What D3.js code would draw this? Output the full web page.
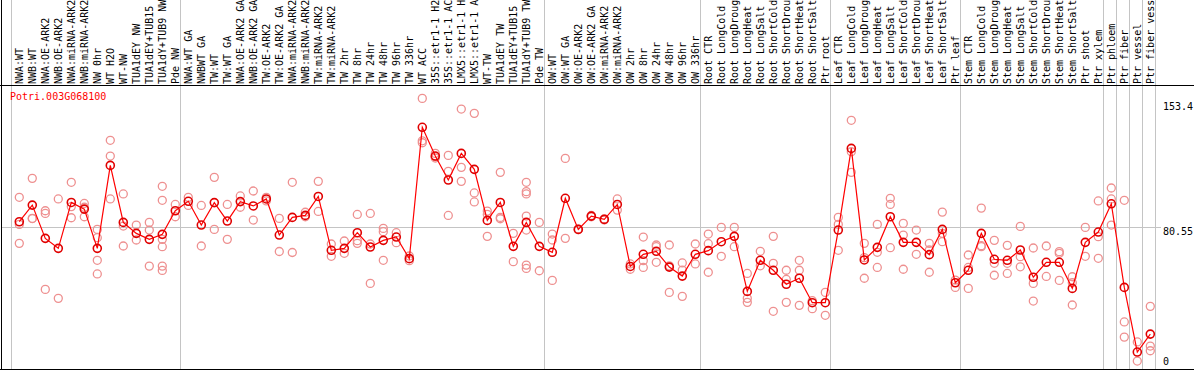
<!DOCTYPE html>
<html>
<head>
<meta charset="utf-8">
<script src="https://cdn.jsdelivr.net/npm/d3@7"></script>
<style>
  body { margin: 0; background: #fff; }
  text { font-family: "DejaVu Sans Mono", monospace; font-size: 10px; }
</style>
</head>
<body>
<div id="chart"></div>
<script>
var geneId = 'Potri.003G068100';

var labels = [
  'NWA:WT','NWB:WT','NWA:OE-ARK2','NWB:OE-ARK2','NWA:miRNA-ARK2','NWB:miRNA-ARK2','NW 0hr','WT H2O','WT-NW',
  'TUA1dEY NW','TUA1dEY+TUB15','TUA1dY+TUB9 NW','Pde NW',
  'NWA:WT GA','NWBWT GA','TW:WT','TW:WT GA','NWA:OE-ARK2 GA','NWB:OE-ARK2 GA','TW:OE-ARK2','TW:OE-ARK2 GA',
  'NWA:miRNA-ARK2','NWB:miRNA-ARK2','TW:miRNA-ARK2','TW:miRNA-ARK2','TW 2hr','TW 8hr','TW 24hr','TW 48hr',
  'TW 96hr','TW 336hr','WT ACC','35S::etr1-1 H2','35S::etr1-1 AC','LMX5::etr1-1 H','LMX5::etr1-1 A','WT-TW',
  'TUA1dEY TW','TUA1dEY+TUB15','TUA1dY+TUB9 TW','Pde TW',
  'OW:WT','OW:WT GA','OW:OE-ARK2','OW:OE-ARK2 GA','OW:miRNA-ARK2','OW:miRNA-ARK2','OW 2hr','OW 8hr','OW 24hr',
  'OW 48hr','OW 96hr','OW 336hr',
  'Root CTR','Root LongCold','Root LongDroug','Root LongHeat','Root LongSalt','Root ShortCold','Root ShortDrou',
  'Root ShortHeat','Root ShortSalt','Ptr root',
  'Leaf CTR','Leaf LongCold','Leaf LongDroug','Leaf LongHeat','Leaf LongSalt','Leaf ShortCold','Leaf ShortDrou',
  'Leaf ShortHeat','Leaf ShortSalt','Ptr leaf',
  'Stem CTR','Stem LongCold','Stem LongDroug','Stem LongHeat','Stem LongSalt','Stem ShortCold','Stem ShortDrou',
  'Stem ShortHeat','Stem ShortSalt','Ptr shoot','Ptr xylem',
  'Ptr phloem','Ptr fiber','Ptr vessel','Ptr fiber vess'
];

// number of samples in each block between the grey separators
var groupSizes = [13, 28, 12, 10, 10, 11, 1, 1, 1, 1];

var means = [
  84.2, 94.2, 74.2, 68.2, 95.8, 91.8, 68.2, 118.1, 83.8, 77.2, 73.6, 76.6, 90.8,
  96.5, 82.2, 95.7, 84.6, 96.3, 93.7, 97.9, 76.2, 86.8, 88.0, 99.4, 67.0, 68.2, 77.6, 69.0, 73.0,
  75.0, 62.0, 141.0, 123.7, 109.3, 125.3, 115.7, 85.0, 95.8, 69.4, 83.8, 69.4,
  65.8, 98.3, 79.6, 87.6, 85.6, 94.6, 57.3, 64.6, 66.4, 56.9, 51.5, 64.6,
  66.8, 72.2, 75.4, 42.3, 61.0, 55.0, 46.6, 50.2, 35.5, 35.5,
  79.2, 128.3, 61.2, 68.8, 87.2, 71.8, 71.8, 64.4, 79.6, 47.5,
  55.0, 77.2, 61.6, 61.0, 67.2, 50.8, 59.8, 59.8, 44.1, 71.8, 78.0,
  95.0, 44.7, 5.8, 16.6
];

var replicates = [
  [98.9, 82.6, 71.2], [110.3, 86.2, 86.1], [90.8, 89.2, 43.5], [97.9, 38.1], [107.9, 93.3, 86.6],
  [95.2, 92.9, 87.2], [79.6, 74.6, 61.0, 52.8], [133.2, 123.7, 97.9], [100.9, 81.6, 69.6], [82.2, 73.2],
  [83.8, 79.2, 57.5], [105.5, 97.1, 73.6, 69.2, 57.5, 54.9], [94.6, 87.2],
  [98.9, 94.0], [94.0, 69.6], [110.9, 79.6], [94.6, 73.6], [99.7, 92.9], [102.7, 85.2], [98.9, 96.7],
  [86.2, 66.3], [107.9, 65.7], [89.9, 87.2], [108.5, 90.4], [70.8, 63.4], [72.6, 65.2], [88.6, 72.8, 71.2],
  [89.2, 70.8, 47.1], [80.2, 78.2, 61.0], [77.6, 71.6], [63.6, 60.8], [158.4, 132.9, 131.7],
  [125.3, 123.3, 122.5], [124.1, 114.5, 88.0], [152.0, 116.9, 108.5], [149.4, 101.5, 96.1],
  [90.6, 88.6, 75.4], [113.9, 86.8, 86.0], [77.2, 60.2], [107.9, 102.3, 100.9, 87.6, 79.2, 58.1, 56.1],
  [83.8, 54.7],
  [76.8, 73.2, 48.9], [122.3, 74.2], [79.8, 79.4], [88.0, 87.2], [85.9, 85.3], [97.9, 91.2], [58.8, 55.6],
  [75.0, 60.8, 56.7], [70.2, 69.2, 59.8], [70.2, 57.7, 41.7], [59.4, 55.1, 39.3], [70.8, 58.8],
  [76.8, 71.0, 53.8], [80.8, 63.4], [80.8, 69.2], [53.1, 38.1, 35.7], [66.4, 57.7], [75.4, 59.2, 30.3],
  [55.0, 49.5, 35.7], [61.0, 55.0, 33.9], [36.7, 31.9], [41.7, 27.9],
  [86.8, 82.6, 67.0], [145.2, 126.3, 113.9], [71.2, 62.6, 50.2], [82.6, 65.8, 56.7], [98.3, 94.6, 68.6],
  [83.2, 76.2, 55.6], [79.2, 64.6], [71.2, 67.2, 53.8], [90.0, 77.2, 72.2], [49.1, 44.7],
  [64.2, 56.7, 44.1], [92.4, 69.8, 69.2], [73.0, 59.2, 52.0], [70.0, 59.2, 53.1], [81.4, 63.2, 57.1],
  [68.4, 47.1, 36.5], [69.6, 51.3], [66.2, 65.2, 48.9], [51.1, 47.5, 34.1], [80.8, 63.4], [96.7, 75.2, 62.2],
  [104.5, 97.9, 82.2], [97.1, 23.9, 14.8], [11.9, 0.4], [33.3, 9.4, 6.6]
];

var yTicks = [153.4, 80.55, 0];

var width = 1194,
    height = 370,
    labelBottom = 85,
    plotBottom = 369;

var svg = d3.select('#chart')
  .append('svg')
  .attr('width', width)
  .attr('height', height);

var x = d3.scaleBand()
  .domain(d3.range(labels.length))
  .range([11.3, 1155.3]);

var px = function(i) { return x(i) + 8; };

var y = d3.scaleLinear()
  .domain([0, 153.4])
  .range([361.7, 106.7]);

var crisp = function(v) { return Math.floor(v) + 0.5; };

// grey separators between sample blocks
var bounds = [0], acc = 0;
groupSizes.forEach(function(n) { acc += n; bounds.push(acc); });

svg.selectAll('line.sep')
  .data(bounds)
  .enter()
  .append('line')
  .attr('class', 'sep')
  .attr('x1', function(b) { return crisp(x(0) + b * x.step()); })
  .attr('x2', function(b) { return crisp(x(0) + b * x.step()); })
  .attr('y1', 0)
  .attr('y2', plotBottom)
  .style('stroke', '#c4c4c4');

// mid value grid line
svg.append('line')
  .attr('x1', 1)
  .attr('x2', 1161)
  .attr('y1', crisp(y(yTicks[1])))
  .attr('y2', crisp(y(yTicks[1])))
  .style('stroke', '#c4c4c4');

// frame
svg.append('line').attr('x1', 1.5).attr('x2', 1.5).attr('y1', 0).attr('y2', height).style('stroke', '#000');
svg.append('line').attr('x1', 0).attr('x2', width).attr('y1', labelBottom + 0.5).attr('y2', labelBottom + 0.5).style('stroke', '#000');
svg.append('line').attr('x1', 0).attr('x2', width).attr('y1', plotBottom + 0.5).attr('y2', plotBottom + 0.5).style('stroke', '#000');

// sample labels
svg.selectAll('text.lab')
  .data(labels)
  .enter()
  .append('text')
  .attr('class', 'lab')
  .attr('transform', function(d, i) { return 'translate(' + px(i) + ',' + (labelBottom - 1) + ') rotate(-90)'; })
  .attr('dy', '0.4em')
  .style('fill', '#000')
  .text(function(d) { return d; });

// right hand values
svg.selectAll('text.tick')
  .data(yTicks)
  .enter()
  .append('text')
  .attr('class', 'tick')
  .attr('x', 1163)
  .attr('y', function(d, i) { return y(d) + (i == 1 ? 4 : 0); })
  .attr('dy', '0.35em')
  .style('fill', '#000')
  .text(function(d) { return d; });

svg.append('text')
  .attr('x', 10)
  .attr('y', 100)
  .style('fill', '#f00')
  .text(geneId);

// replicate circles
var reps = [];
replicates.forEach(function(r, i) {
  r.forEach(function(v) { reps.push({i: i, v: v}); });
});

svg.selectAll('circle.rep')
  .data(reps)
  .enter()
  .append('circle')
  .attr('class', 'rep')
  .attr('cx', function(d) { return px(d.i); })
  .attr('cy', function(d) { return y(d.v); })
  .attr('r', 4)
  .style('fill', 'none')
  .style('stroke', '#ee9090')
  .style('stroke-width', 1.3);

// mean line
var line = d3.line()
  .x(function(d, i) { return px(i); })
  .y(function(d) { return y(d); });

svg.append('path')
  .datum(means)
  .attr('d', line)
  .style('fill', 'none')
  .style('stroke', '#f00')
  .style('stroke-width', 1.2);

svg.selectAll('circle.mean')
  .data(means)
  .enter()
  .append('circle')
  .attr('class', 'mean')
  .attr('cx', function(d, i) { return px(i); })
  .attr('cy', function(d) { return y(d); })
  .attr('r', 4)
  .style('fill', 'none')
  .style('stroke', '#e00000')
  .style('stroke-width', 1.6);
</script>
</body>
</html>
